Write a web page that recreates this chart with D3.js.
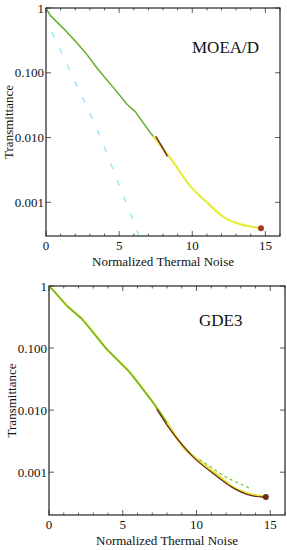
<!DOCTYPE html>
<html>
<head>
<meta charset="utf-8">
<script src="https://cdn.jsdelivr.net/npm/d3@7"></script>
<style>
  body { margin: 0; background: #fff; }
  svg { display: block; }
  svg text { font-family: 'Liberation Serif', 'DejaVu Serif', serif; }
</style>
</head>
<body>
<svg id="chart" width="287" height="550"></svg>
<script>
// x values: normalized thermal noise, y values: log10(transmittance)

// MOEA/D panel
const moeaGreenX = [0, 0.27, 1.3, 2.12, 2.8, 3.56, 4.73, 5.55, 6.1, 7.12, 7.33];
const moeaGreenY = [0, -0.11, -0.34, -0.54, -0.72, -0.95, -1.26, -1.49, -1.6, -1.92, -1.98];
const moeaYellowX = [7.33, 8.7, 9.86, 11.0, 12.1, 13.3, 14.45, 14.7];
const moeaYellowY = [-1.98, -2.38, -2.75, -3.0, -3.22, -3.34, -3.39, -3.4];
const moeaRedX = [7.5, 7.9, 8.3];
const moeaRedY = [-1.98, -2.13, -2.29];
const moeaCyanX = [0.4, 1.99, 3.56, 4.86, 6.64];
const moeaCyanY = [-0.37, -1.14, -1.91, -2.65, -3.68];
const moeaDotX = [14.7];
const moeaDotY = [-3.4];

// GDE3 panel
const gdeGreenX = [0, 0.4, 1.22, 2.23, 3.92, 5.47, 7.03, 8.0, 9.05, 10.2, 11.35, 12.4, 13.6, 14.5];
const gdeGreenY = [0, -0.1, -0.32, -0.53, -1.02, -1.39, -1.87, -2.2, -2.58, -2.82, -3.03, -3.23, -3.35, -3.39];
const gdeDashX = [10.2, 10.75, 12.0, 12.9, 13.7];
const gdeDashY = [-2.8, -2.88, -3.08, -3.18, -3.27];
const gdeRedX = [7.3, 8.0, 9.0, 9.75, 11.35, 12.4, 13.6, 14.5, 14.7];
const gdeRedY = [-1.98, -2.24, -2.55, -2.75, -3.06, -3.24, -3.37, -3.4, -3.4];
const gdeDotX = [14.7];
const gdeDotY = [-3.4];

const yTickValues = [1, 0.1, 0.01, 0.001];
const yTickLabels = ["1", "0.100", "0.010", "0.001"];
const xTickValues = [0, 5, 10, 15];
const panelTitles = ["MOEA/D", "GDE3"];

const svg = d3.select('#chart');

function zip(xs, ys) {
    return xs.map((x, i) => ({ x: x, y: Math.pow(10, ys[i]) }));
}

function drawPanel(cfg) {
    const x = d3.scaleLinear().domain([0, 16]).range([cfg.left, cfg.right]);
    const y = d3.scaleLog().domain([cfg.yMin, 1]).range([cfg.bottom, cfg.top]);
    const g = svg.append('g');

    // minor x ticks, top and bottom
    const minor = d3.range(0, 17, 1);
    g.selectAll('.mxb').data(minor).enter().append('line')
        .attr('x1', d => x(d)).attr('x2', d => x(d))
        .attr('y1', cfg.bottom).attr('y2', d => cfg.bottom - (d % 5 === 0 ? 5 : 2.5))
        .attr('stroke', '#333').attr('stroke-width', 0.8);
    g.selectAll('.mxt').data(minor).enter().append('line')
        .attr('x1', d => x(d)).attr('x2', d => x(d))
        .attr('y1', cfg.top).attr('y2', d => cfg.top + (d % 5 === 0 ? 5 : 2.5))
        .attr('stroke', '#333').attr('stroke-width', 0.8);
    // y ticks left and right
    g.selectAll('.yl').data(yTickValues).enter().append('line')
        .attr('x1', cfg.left).attr('x2', cfg.left + 5)
        .attr('y1', d => y(d)).attr('y2', d => y(d))
        .attr('stroke', '#333').attr('stroke-width', 0.8);
    g.selectAll('.yr').data(yTickValues).enter().append('line')
        .attr('x1', cfg.right).attr('x2', cfg.right - 5)
        .attr('y1', d => y(d)).attr('y2', d => y(d))
        .attr('stroke', '#333').attr('stroke-width', 0.8);

    // tick labels
    g.selectAll('.ytl').data(yTickValues).enter().append('text')
        .attr('x', cfg.left - 2).attr('y', d => y(d) + 4.5)
        .attr('text-anchor', 'end').attr('font-size', 13).attr('fill', '#111')
        .text((d, i) => yTickLabels[i]);
    g.selectAll('.xtl').data(xTickValues).enter().append('text')
        .attr('x', d => x(d)).attr('y', cfg.bottom + 14)
        .attr('text-anchor', 'middle').attr('font-size', 13).attr('fill', '#111')
        .text(d => d);

    // axis titles
    g.append('text')
        .attr('x', (cfg.left + cfg.right) / 2).attr('y', cfg.bottom + 30)
        .attr('text-anchor', 'middle').attr('font-size', 13).attr('fill', '#111')
        .text('Normalized Thermal Noise');
    g.append('text')
        .attr('transform', `translate(${cfg.left - 33},${(cfg.top + cfg.bottom) / 2}) rotate(-90)`)
        .attr('text-anchor', 'middle').attr('font-size', 13).attr('fill', '#111')
        .text('Transmittance');

    // curves
    cfg.series.forEach(s => {
        const ln = d3.line().x(d => x(d.x)).y(d => y(d.y))
            .curve(s.smooth ? d3.curveMonotoneX : d3.curveLinear);
        g.append('path')
            .datum(zip(s.xs, s.ys))
            .attr('d', ln)
            .attr('fill', 'none')
            .attr('stroke', s.color)
            .attr('stroke-width', s.width)
            .attr('stroke-dasharray', s.dash || null)
            .attr('stroke-linejoin', 'round');
    });
    cfg.dots.forEach(s => {
        g.selectAll(null).data(zip(s.xs, s.ys)).enter().append('circle')
            .attr('cx', d => x(d.x)).attr('cy', d => y(d.y))
            .attr('r', 3).attr('fill', s.color);
    });

    // frame
    g.append('rect')
        .attr('x', cfg.left).attr('y', cfg.top)
        .attr('width', cfg.right - cfg.left).attr('height', cfg.bottom - cfg.top)
        .attr('fill', 'none').attr('stroke', '#222').attr('stroke-width', 1.2);

    g.append('text')
        .attr('x', cfg.titleX).attr('y', cfg.titleY)
        .attr('font-size', 17).attr('fill', '#111')
        .text(cfg.title);
}

drawPanel({
    left: 46, right: 280, top: 8, bottom: 236, yMin: Math.pow(10, -3.52),
    title: panelTitles[0], titleX: 192, titleY: 53,
    series: [
        { xs: moeaCyanX, ys: moeaCyanY, color: '#8ae8f4', width: 1.3, dash: '6,12', smooth: true },
        { xs: moeaYellowX, ys: moeaYellowY, color: '#e8ec3a', width: 2.2, smooth: true },
        { xs: moeaGreenX, ys: moeaGreenY, color: '#5fae2a', width: 1.5 },
        { xs: moeaRedX, ys: moeaRedY, color: '#7a2418', width: 1.5, smooth: true }
    ],
    dots: [{ xs: moeaDotX, ys: moeaDotY, color: '#a33a1e' }]
});

drawPanel({
    left: 49, right: 285, top: 286, bottom: 515, yMin: Math.pow(10, -3.69),
    title: panelTitles[1], titleX: 199, titleY: 326,
    series: [
        { xs: gdeGreenX, ys: gdeGreenY, color: '#e3e63a', width: 2.4, smooth: true },
        { xs: gdeGreenX.slice(0, 8), ys: gdeGreenY.slice(0, 8), color: '#6bb22a', width: 1.4 },
        { xs: gdeDashX, ys: gdeDashY, color: '#7cc94a', width: 1.3, dash: '3,3', smooth: true },
        { xs: gdeRedX, ys: gdeRedY, color: '#6e2a14', width: 1.3, smooth: true }
    ],
    dots: [{ xs: gdeDotX, ys: gdeDotY, color: '#6e2a14' }]
});
</script>
</body>
</html>
